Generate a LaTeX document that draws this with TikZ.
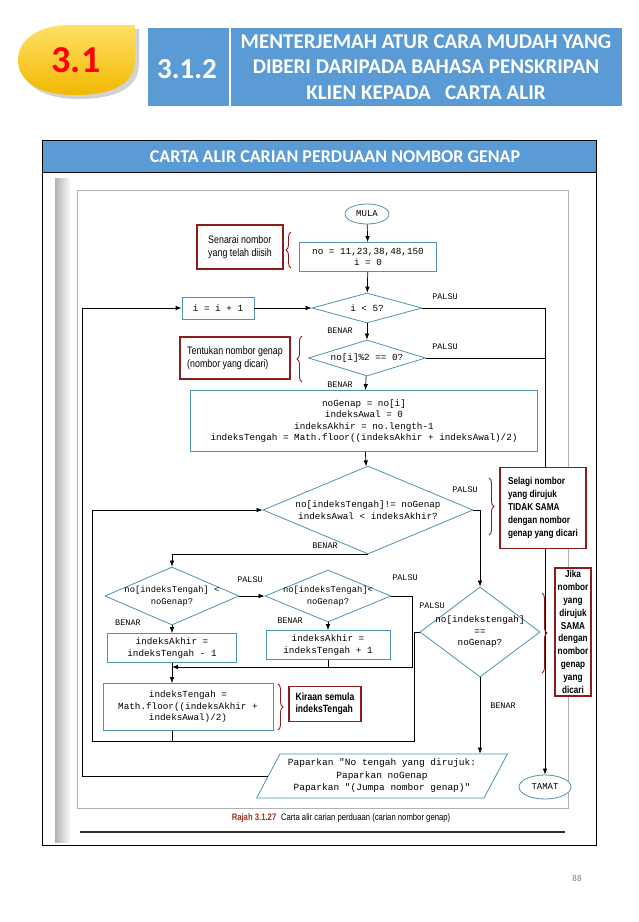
\documentclass[tikz,border=0pt]{standalone}
\usepackage{fontspec}
\setmainfont{Carlito}
\newfontfamily\codefont{Liberation Mono}
\newfontfamily\notefont[FakeStretch=0.82]{Liberation Sans}
\usetikzlibrary{shapes.geometric,decorations.pathreplacing,arrows.meta}
\definecolor{hdrblue}{HTML}{5B9BD5}
\definecolor{flowblue}{HTML}{4F93AE}
\definecolor{notered}{HTML}{8C1D1D}
\definecolor{goldtop}{HTML}{FFE066}
\definecolor{goldbot}{HTML}{F2B800}
\definecolor{capred}{HTML}{A3321B}
\tikzset{
    proc/.style={draw=flowblue, line width=0.8pt, fill=white, align=center, inner sep=2pt,
        font=\codefont\fontsize{9.3}{11.5}\selectfont},
    cond/.style={diamond, draw=flowblue, line width=0.8pt, fill=white, align=center, inner sep=0pt,
        font=\codefont\fontsize{9.3}{11.5}\selectfont},
    term/.style={ellipse, draw=flowblue, line width=0.8pt, fill=white, inner sep=0pt,
        font=\codefont\fontsize{9}{10}\selectfont},
    note/.style={draw=notered, line width=1.6pt, fill=white, align=left, inner sep=3pt,
        font=\notefont\fontsize{10.8}{12.5}\selectfont},
    curly/.style={decorate, decoration={brace, amplitude=5pt}, draw=notered, line width=0.9pt},
    flow/.style={-{Latex[length=6pt,width=4.5pt]}, line width=0.7pt},
    tag/.style={font=\codefont\fontsize{8.5}{9}\selectfont, inner sep=1pt}
}
\begin{document}
\begin{tikzpicture}[x=1pt, y=-1pt]
    \useasboundingbox (0,0) rectangle (638,922);
    \fill[white] (0,0) rectangle (638,922);

    % header
    \fill[gray!35] (139,29) -- (74,29) .. controls (42,29) and (22,44) .. (22,64)
        .. controls (22,86) and (44,99) .. (79,99) .. controls (114,99) and (139,89) .. (139,64) -- cycle;
    \shade[top color=goldtop, bottom color=goldbot] (135,25) -- (70,25) .. controls (38,25) and (18,40) .. (18,60)
        .. controls (18,82) and (40,95) .. (75,95) .. controls (110,95) and (135,85) .. (135,60) -- cycle;
    \node[red, font=\bfseries\fontsize{38}{40}\selectfont] (chap) at (76,60) {3.1};
    \fill[hdrblue] (148,28) rectangle (622,106);
    \draw[white, line width=1.5pt] (230,28) -- (230,106);
    \node[white, font=\bfseries\fontsize{29}{32}\selectfont] (secno) at (187,69) {3.1.2};
    \node[white, font=\bfseries\fontsize{21}{25.5}\selectfont, align=center] (sectitle) at (426,67)
        {MENTERJEMAH ATUR CARA MUDAH YANG\\DIBERI DARIPADA BAHASA PENSKRIPAN\\KLIEN KEPADA \ \ CARTA ALIR};

    % frame
    \fill[hdrblue] (42,140) rectangle (596,172);
    \draw[line width=1pt] (42,140) rectangle (596,845);
    \draw[line width=1pt] (42,172) -- (596,172);
    \node[white, font=\bfseries\fontsize{18}{20}\selectfont] (bartitle) at (335,157)
        {CARTA ALIR CARIAN PERDUAAN NOMBOR GENAP};
    \fill[left color=gray!60, right color=gray!5] (55,178) rectangle (70,842);
    \draw[gray!60, line width=0.6pt] (77,190) rectangle (568,808);

    % flowchart
    \node[term, minimum width=44, minimum height=20] (mula) at (367,214) {MULA};
    \node[proc, minimum width=137, minimum height=29] (init) at (368,257) {no = 11,23,38,48,150\\i = 0};
    \node[cond, aspect=3.6, minimum width=110, minimum height=30] (dloop) at (367,308) {i < 5?};
    \node[proc, minimum width=72, minimum height=22] (incr) at (218,308) {i = i + 1};
    \node[cond, aspect=3.4, minimum width=117, minimum height=36] (deven) at (367,358) {no[i]\%2 == 0?};
    \node[proc, minimum width=347, minimum height=61] (setup) at (364,421)
        {noGenap = no[i]\\indeksAwal = 0\\indeksAkhir = no.length-1\\indeksTengah = Math.floor((indeksAkhir + indeksAwal)/2)};
    \node[cond, aspect=2.4, minimum width=210, minimum height=88] (dwhile) at (368,510)
        {no[indeksTengah]!= noGenap\\indeksAwal < indeksAkhir?};
    \node[cond, aspect=2.3, minimum width=134, minimum height=58, inner xsep=-14pt,
        font=\codefont\fontsize{8.8}{11.5}\selectfont] (dlt) at (172,596) {no[indeksTengah] <\\noGenap?};
    \node[cond, aspect=2.5, minimum width=126, minimum height=52, inner xsep=-14pt,
        font=\codefont\fontsize{8.8}{11.5}\selectfont] (dgt) at (328,596) {no[indeksTengah]<\\noGenap?};
    \node[proc, minimum width=129, minimum height=29] (lower) at (172,648) {indeksAkhir =\\indeksTengah - 1};
    \node[proc, minimum width=124, minimum height=29] (upper) at (328,645) {indeksAkhir =\\indeksTengah + 1};
    \node[proc, minimum width=170, minimum height=47] (recalc) at (188,707)
        {indeksTengah =\\Math.floor((indeksAkhir +\\indeksAwal)/2)};
    \node[cond, aspect=1.35, minimum width=120, minimum height=90, inner xsep=-10pt] (dfound) at (480,632)
        {no[indekstengah]\\==\\noGenap?};
    \node[trapezium, trapezium left angle=62, trapezium right angle=118, draw=flowblue, line width=0.8pt,
        fill=white, align=center, inner xsep=8pt, inner ysep=5pt, font=\codefont\fontsize{9.5}{12.5}\selectfont]
        (show) at (382,776) {Paparkan "No tengah yang dirujuk:\\Paparkan noGenap\\Paparkan "(Jumpa nombor genap)"};
    \node[term, minimum width=52, minimum height=24] (tamat) at (545,787) {TAMAT};

    \node[tag] (t1) at (445,297) {PALSU};
    \node[tag] (t2) at (340,331) {BENAR};
    \node[tag] (t3) at (445,347) {PALSU};
    \node[tag] (t4) at (340,385) {BENAR};
    \node[tag] (t5) at (465,490) {PALSU};
    \node[tag] (t6) at (325,546) {BENAR};
    \node[tag] (t7) at (250,580) {PALSU};
    \node[tag] (t8) at (405,578) {PALSU};
    \node[tag] (t9) at (128,623) {BENAR};
    \node[tag] (t10) at (290,621) {BENAR};
    \node[tag] (t11) at (432,606) {PALSU};
    \node[tag] (t12) at (503,706) {BENAR};

    \coordinate (mergeR) at (412,667);
    \coordinate (loopW) at (92,741);
    \coordinate (loopI) at (82,775);
    \draw[flow] (mula) -- (init);
    \draw[flow] (init) -- (dloop);
    \draw[flow] (dloop.east) -| (tamat.north);
    \draw[flow] (dloop) -- (deven);
    \draw (deven.east) -- (deven.east -| tamat.north);
    \draw[flow] (deven) -- (setup);
    \draw[flow] (setup) -- (dwhile);
    \draw[flow] (dwhile.east) -| (dfound.north);
    \draw[flow] (dwhile.south) -| (dlt.north);
    \draw[flow] (dlt) -- (dgt);
    \draw[flow] (dlt) -- (lower);
    \draw[flow] (dgt) -- (upper);
    \draw[flow] (dgt.east) -| (mergeR) -- (mergeR -| lower.south);
    \draw (upper.south) -- (upper.south |- mergeR);
    \draw[flow] (lower.south) -- (lower.south |- recalc.north);
    \draw (recalc.south -| lower.south) -- (lower.south |- loopW);
    \draw[flow] (dfound.west) -- ++(-5,0) |- (loopW) |- (dwhile.west);
    \draw[flow] (dfound.south) -- (dfound.south |- show.north);
    \draw[flow] (show.west) -- (show.west -| loopI) |- (incr.west);
    \draw[flow] (incr) -- (dloop);

    % notes
    \node[note, minimum width=86, minimum height=44] (n1) at (240,247) {Senarai nombor\\yang telah diisih};
    \node[note, minimum width=110, minimum height=42] (n2) at (235,358) {Tentukan nombor genap\\(nombor yang dicari)};
    \node[note, minimum width=86, minimum height=81, font=\notefont\bfseries\fontsize{10}{13}\selectfont] (n3) at (543,508)
        {Selagi nombor\\yang dirujuk\\TIDAK SAMA\\dengan nombor\\genap yang dicari};
    \node[note, align=center, font=\notefont\bfseries\fontsize{10}{12.8}\selectfont] (n4) at (573,632)
        {Jika\\nombor\\yang\\dirujuk\\SAMA\\dengan\\nombor\\genap\\yang\\dicari};
    \node[note, minimum width=72, minimum height=35, font=\notefont\bfseries\fontsize{10.5}{12.5}\selectfont] (n5) at (325,704)
        {Kiraan semula\\indeksTengah};
    \draw[curly] (291,268) -- (291,232);
    \draw[curly] (302,382) -- (302,336);
    \draw[curly] (489,478) -- (489,535);
    \draw[curly] (542,593) -- (542,673);
    \draw[curly] (278,684) -- (278,730);

    \node[font=\notefont\fontsize{9.4}{10}\selectfont] (cap) at (341,818)
        {\textcolor{capred}{\bfseries Rajah 3.1.27}\enspace Carta alir carian perduaan (carian nombor genap)};
    \draw[line width=1.5pt, black!80] (80,832) -- (565,832);
    \node[gray, font=\fontsize{9}{10}\selectfont] (pgno) at (577,878) {88};
\end{tikzpicture}
\end{document}
